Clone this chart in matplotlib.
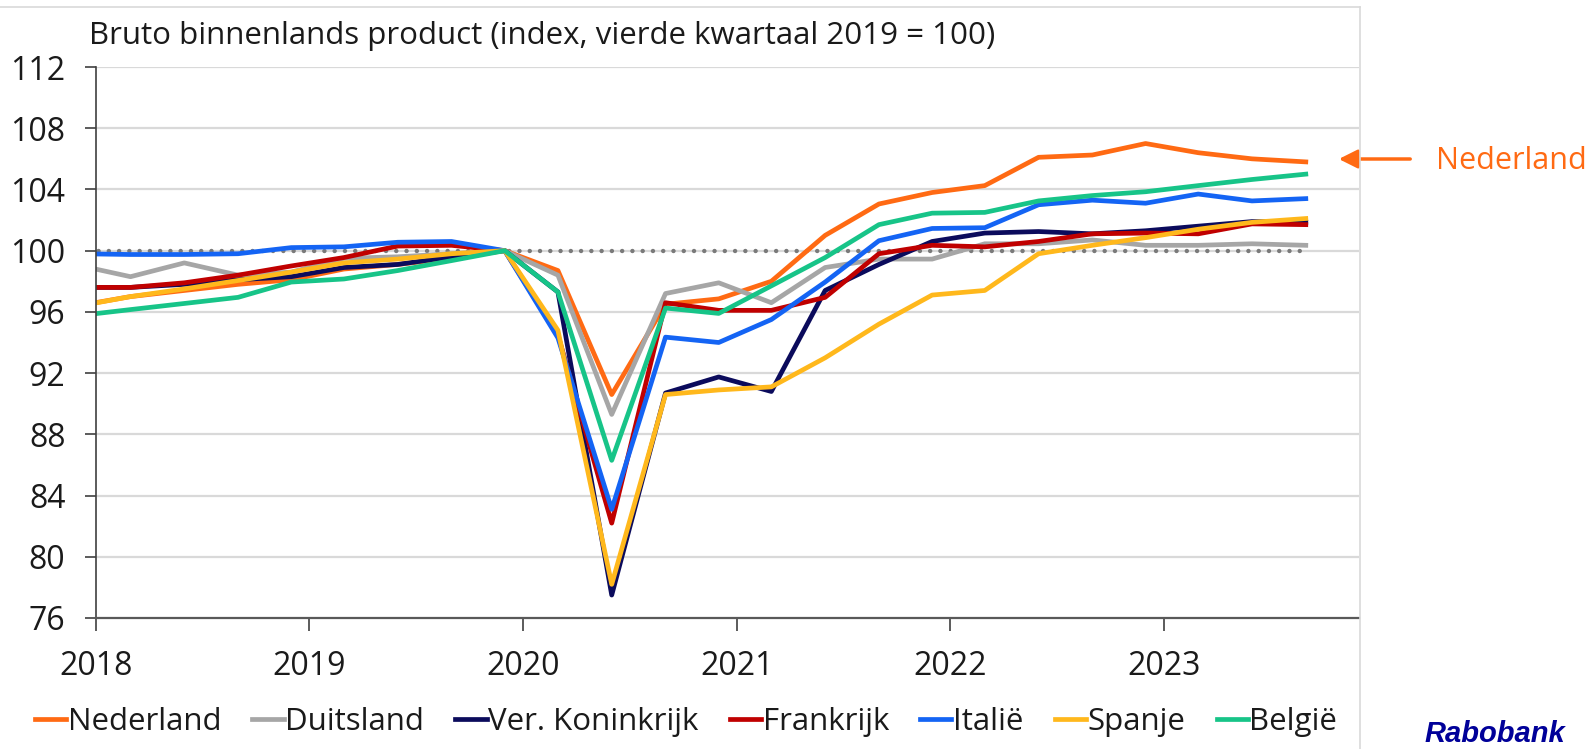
import matplotlib
matplotlib.use("Agg")
import matplotlib.pyplot as plt
import matplotlib.dates as mdates
import pandas as pd
from matplotlib.lines import Line2D

plt.rcParams['font.family'] = ['Open Sans', 'DejaVu Sans']

# quarterly GDP index, Q4 2019 = 100 (2017Q4 .. 2023Q3), plotted at first day of last quarter month
quarters = pd.date_range('2017-12-01', periods=24, freq='3MS')

nederland = [96.4,
             97.0, 97.4, 97.8, 98.1,
             98.8, 99.1, 99.5, 100.0,
             98.7, 90.6, 96.5, 96.85,
             98.0, 101.0, 103.05, 103.8,
             104.25, 106.1, 106.25, 107.0,
             106.4, 106.0, 105.8]
duitsland = [99.05,
             98.3, 99.2, 98.4, 98.6,
             99.5, 99.6, 99.8, 100.0,
             98.4, 89.3, 97.2, 97.9,
             96.6, 98.9, 99.45, 99.45,
             100.45, 100.45, 100.7, 100.35,
             100.35, 100.45, 100.35]
ver_koninkrijk = [97.6,
                  97.6, 97.8, 98.1, 98.3,
                  98.9, 99.1, 99.6, 100.0,
                  97.3, 77.5, 90.7, 91.75,
                  90.8, 97.4, 99.1, 100.6,
                  101.15, 101.25, 101.1, 101.3,
                  101.6, 101.9, 101.85]
frankrijk = [97.6,
             97.6, 97.9, 98.4, 99.0,
             99.55, 100.3, 100.35, 100.0,
             94.5, 82.2, 96.6, 96.1,
             96.1, 96.95, 99.8, 100.35,
             100.25, 100.6, 101.1, 101.15,
             101.1, 101.75, 101.7]
italie = [99.8,
          99.75, 99.75, 99.8, 100.2,
          100.25, 100.55, 100.6, 100.0,
          94.3, 83.1, 94.35, 94.0,
          95.5, 97.95, 100.65, 101.45,
          101.5, 103.0, 103.3, 103.1,
          103.7, 103.25, 103.4]
spanje = [96.37,
          97.0, 97.5, 98.05, 98.6,
          99.2, 99.45, 99.8, 100.0,
          94.8, 78.2, 90.6, 90.9,
          91.1, 93.0, 95.2, 97.1,
          97.4, 99.8, 100.35, 100.85,
          101.4, 101.85, 102.1]
belgie = [95.75,
          96.15, 96.55, 96.95, 97.95,
          98.15, 98.7, 99.35, 100.0,
          97.3, 86.3, 96.25, 95.9,
          97.7, 99.55, 101.7, 102.45,
          102.5, 103.25, 103.6, 103.85,
          104.25, 104.65, 105.0]
basis = [100.0] * len(quarters)

series = [
    ('Nederland', nederland, '#ff6a13'),
    ('Duitsland', duitsland, '#a6a6a6'),
    ('Ver. Koninkrijk', ver_koninkrijk, '#0b0b5c'),
    ('Frankrijk', frankrijk, '#c00000'),
    ('Italië', italie, '#1464f4'),
    ('Spanje', spanje, '#ffb81c'),
    ('België', belgie, '#17c488'),
]
year_ticks = [2018, 2019, 2020, 2021, 2022, 2023]
y_ticks = list(range(76, 113, 4))

fig = plt.figure(figsize=(15.88, 7.49), dpi=100)
ax = fig.add_axes([96 / 1588, 1 - 618 / 749, (1359 - 96) / 1588, (618 - 67) / 749])

for y in y_ticks[1:]:
    ax.axhline(y, color='#d9d9d9', lw=1.6, zorder=0)

ax.plot(quarters, basis, color='#7a7a7a', lw=3.2, linestyle=(0, (0.01, 2.3)),
        dash_capstyle='round', zorder=1)

for name, vals, col in series:
    ax.plot(quarters, vals, color=col, lw=3.4, label=name, zorder=2)

ax.set_xlim(pd.Timestamp('2018-01-01'), pd.Timestamp('2023-12-01'))
ax.set_ylim(76, 112)
ax.set_yticks(y_ticks)
ax.set_xticks([pd.Timestamp(f'{y}-01-01') for y in year_ticks])
ax.xaxis.set_major_formatter(mdates.DateFormatter('%Y'))
ax.tick_params(axis='y', direction='out', length=8, width=1.2, color='#404040',
               labelsize=23, pad=14, labelcolor='#1a1a1a')
ax.tick_params(axis='x', direction='out', length=9, width=1.2, color='#404040',
               labelsize=23, pad=14, labelcolor='#1a1a1a')
for s in ['top', 'right']:
    ax.spines[s].set_visible(False)
ax.spines['left'].set_color('#404040')
ax.spines['left'].set_linewidth(1.2)
ax.spines['bottom'].set_color('#595959')
ax.spines['bottom'].set_linewidth(1.6)

fig.text(89 / 1588, 1 - 36 / 749, 'Bruto binnenlands product (index, vierde kwartaal 2019 = 100)',
         fontsize=22.5, va='center', ha='left', color='#1a1a1a')

leg = fig.legend(loc='center', bbox_to_anchor=(686 / 1588, 1 - 722 / 749), ncol=7,
                 frameon=False, fontsize=22.5, handlelength=1.0, handletextpad=0.05,
                 columnspacing=1.0, borderpad=0)
for t in leg.get_texts():
    t.set_color('#1a1a1a')
for h in leg.legend_handles:
    h.set_linewidth(3.4)

# annotation for Nederland
ax.annotate('', xy=(1336 / 1588, 1 - 159 / 749), xytext=(1413 / 1588, 1 - 159 / 749),
            xycoords='figure fraction', textcoords='figure fraction',
            arrowprops=dict(arrowstyle='-|>', color='#ff6a13', lw=2.5, mutation_scale=28),
            annotation_clip=False)
fig.text(1436 / 1588, 1 - 161 / 749, 'Nederland', color='#ff6a13', fontsize=22,
         va='center', ha='left')

fig.text(1424 / 1588, 1.5 / 749, 'Rabobank', color='#000099', fontsize=21,
         fontweight='bold', fontstyle='italic', family=['Liberation Sans', 'DejaVu Sans'],
         va='bottom', ha='left')

# chart area border
fig.add_artist(Line2D([0, 1360 / 1588], [1 - 7 / 749, 1 - 7 / 749], color='#d9d9d9', lw=1.2))
fig.add_artist(Line2D([1360 / 1588, 1360 / 1588], [0, 1 - 7 / 749], color='#d9d9d9', lw=1.2))

fig.savefig('out.png', dpi=100, facecolor='white')
